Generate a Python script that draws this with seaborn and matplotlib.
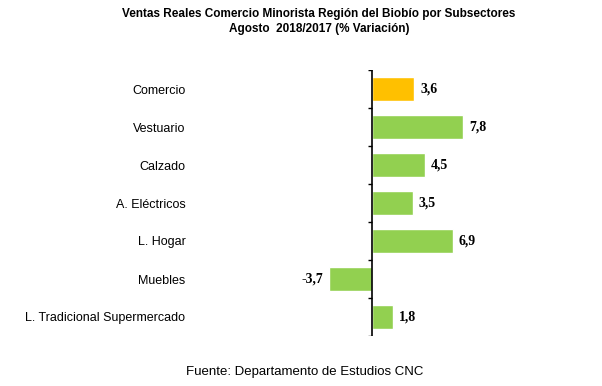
import pandas as pd
import matplotlib.pyplot as plt
import seaborn as sns

categories = ['Comercio', 'Vestuario', 'Calzado', 'A. Eléctricos', 'L. Hogar',
              'Muebles', 'L. Tradicional Supermercado']
values = [3.6, 7.8, 4.5, 3.5, 6.9, -3.7, 1.8]
labels = ['3,6', '7,8', '4,5', '3,5', '6,9', '-3,7', '1,8']
colors = ['#FFC000', '#92D050', '#92D050', '#92D050', '#92D050', '#92D050', '#92D050']

sns.set_style('white')
plt.rcParams['font.family'] = ['Liberation Sans', 'DejaVu Sans']
plt.rcParams['text.color'] = 'black'
plt.rcParams['ytick.color'] = 'black'

df = pd.DataFrame({'cat': categories, 'val': values})

W, H = 602, 386
fig = plt.figure(figsize=(W / 100, H / 100), dpi=100)
# axes: left 200px, right 560px, top 70px, bottom 336px
ax = fig.add_axes([200 / W, 1 - 336 / H, 360 / W, 266 / H])

sns.barplot(data=df, x='val', y='cat', hue='cat', palette=colors, legend=False,
            width=0.63, ax=ax, saturation=1, orient='h')

ppu = 91 / 7.8
ax.set_xlim(-172 / ppu, 188 / ppu)
ax.set_ylim(len(categories) - 0.5, -0.5)

for s in ax.spines.values():
    s.set_visible(False)
ax.set_xticks([])
ax.set_xlabel('')
ax.set_ylabel('')
ax.set_yticks(range(len(categories)))
ax.set_yticklabels(categories, fontsize=9, color='black')
ax.tick_params(axis='y', length=0, pad=10.5)

# zero axis with boundary ticks
ax.axvline(0, color='black', lw=1.2)
bounds = [i - 0.5 for i in range(len(categories) + 1)]
ax.hlines(bounds, -4 / ppu, 0, color='black', lw=1)

for i, (v, lab) in enumerate(zip(values, labels)):
    off = 6 / ppu
    ax.text(v + off if v >= 0 else v - off, i, lab, va='center',
            ha='left' if v >= 0 else 'right', fontsize=10, fontweight='bold',
            family='Liberation Serif', color='black')

fig.text(319 / W, 1 - 14 / H, 'Ventas Reales Comercio Minorista Región del Biobío por Subsectores',
         ha='center', va='center', fontsize=8.5, fontweight='bold')
fig.text(319 / W, 1 - 29 / H, 'Agosto  2018/2017 (% Variación)',
         ha='center', va='center', fontsize=8.5, fontweight='bold')
fig.text(305 / W, 1 - 372 / H, 'Fuente: Departamento de Estudios CNC',
         ha='center', va='center', fontsize=9.5)

fig.savefig('out.png', dpi=100)
